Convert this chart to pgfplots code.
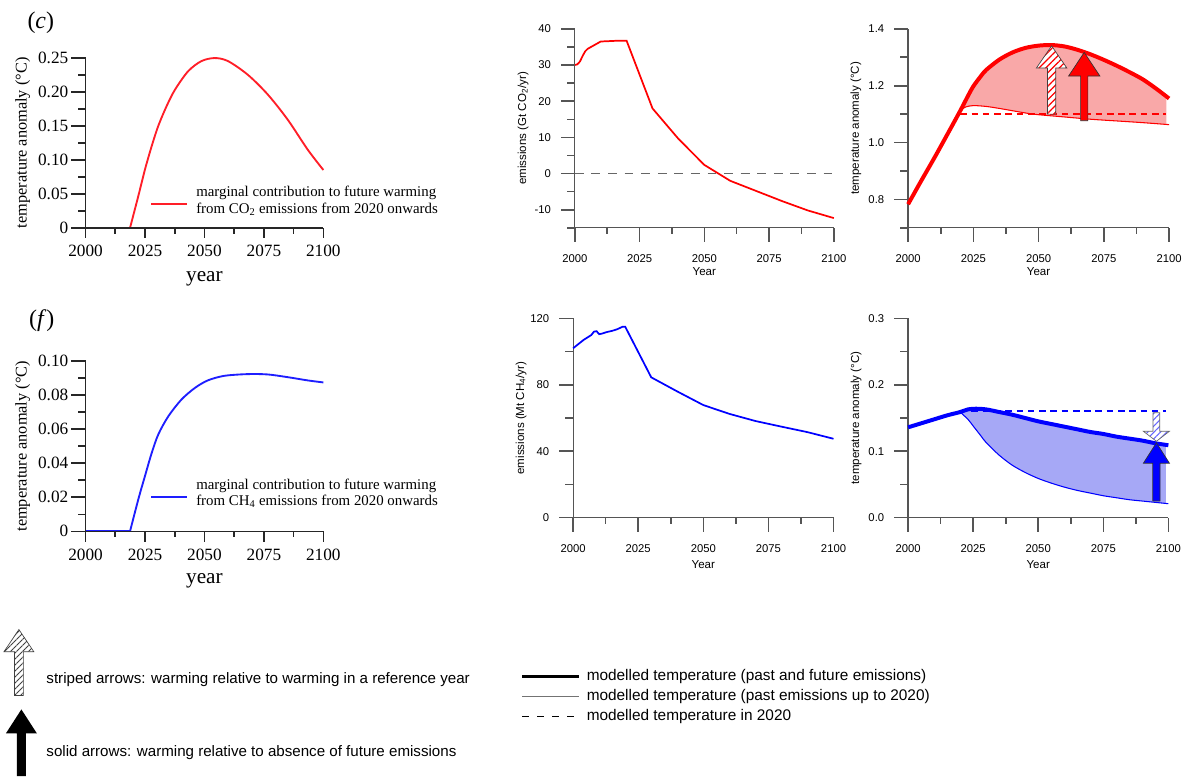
\documentclass[border=0pt]{standalone}
\usepackage{fontspec}
\setmainfont{Liberation Sans}
\newfontfamily\timesfont{Liberation Serif}
\usepackage{pgfplots}
\usepackage{pgfplotstable}
\pgfplotsset{compat=1.18}
\usepgfplotslibrary{fillbetween}
\usetikzlibrary{patterns.meta}

\definecolor{cored}{RGB}{255,0,0}
\definecolor{cofill}{RGB}{249,168,168}
\definecolor{chblue}{RGB}{0,0,255}
\definecolor{chfill}{RGB}{166,168,246}
\definecolor{axgrey}{RGB}{85,85,85}
\definecolor{lred}{RGB}{255,30,40}
\definecolor{lblue}{RGB}{30,30,255}

% ---------- data ----------
\pgfplotstableread{
x y
2000 30.0
2001 30.2
2002 31.0
2003 32.5
2004 33.8
2005 34.5
2007 35.3
2010 36.5
2013 36.6
2016 36.7
2020 36.7
2030 18.0
2040 9.6
2050 2.4
2060 -2.0
2070 -4.8
2080 -7.6
2090 -10.2
2100 -12.3
}\coemis

\pgfplotstableread{
x y
2000 0.783
2005 0.865
2010 0.945
2015 1.028
2020 1.112
2023 1.165
2025 1.198
2028 1.235
2030 1.256
2035 1.292
2040 1.317
2045 1.333
2050 1.341
2055 1.343
2060 1.338
2065 1.326
2070 1.310
2075 1.291
2080 1.270
2085 1.247
2090 1.222
2095 1.190
2100 1.155
}\cothick

\pgfplotstableread{
x y
2020 1.112
2022 1.125
2025 1.130
2030 1.127
2035 1.120
2040 1.112
2045 1.104
2050 1.098
2060 1.090
2070 1.082
2080 1.076
2090 1.070
2100 1.063
}\cothin

\pgfplotstableread{
x y
2000 102.0
2002 104.5
2004 107.0
2006 109.0
2007 110.0
2008 112.0
2009 112.3
2010 110.5
2011 110.8
2013 111.8
2015 112.5
2017 113.5
2019 115.0
2020 115.0
2030 84.5
2040 76.0
2050 67.8
2060 62.5
2070 58.2
2080 54.8
2090 51.5
2100 47.5
}\chemis

\pgfplotstableread{
x y
2000 0.136
2005 0.142
2010 0.148
2015 0.154
2020 0.159
2023 0.163
2026 0.164
2030 0.163
2035 0.159
2040 0.155
2045 0.150
2050 0.145
2055 0.141
2060 0.137
2065 0.133
2070 0.129
2075 0.126
2080 0.122
2085 0.119
2090 0.116
2095 0.112
2100 0.109
}\chthick

\pgfplotstableread{
x y
2020 0.159
2023 0.148
2025 0.138
2028 0.123
2030 0.113
2035 0.094
2040 0.079
2045 0.068
2050 0.059
2055 0.052
2060 0.046
2065 0.041
2070 0.037
2075 0.033
2080 0.030
2085 0.027
2090 0.025
2095 0.023
2100 0.021
}\chthin

\pgfplotstableread{
x y
2018.7 0
2022.2 0.047
2025.0 0.086
2027.8 0.120
2030.6 0.150
2034.1 0.179
2037.6 0.203
2043.1 0.230
2048.7 0.245
2054.3 0.2495
2059.9 0.245
2068.2 0.225
2076.6 0.196
2085.0 0.159
2093.4 0.115
2100.0 0.085
}\comarg

\pgfplotstableread{
x y
2018.7 0
2022.2 0.0189
2025.0 0.0326
2027.8 0.046
2030.6 0.057
2034.8 0.0676
2040.3 0.0774
2045.9 0.0842
2051.4 0.0887
2058.4 0.0914
2068.2 0.0924
2076.6 0.0922
2085.0 0.0906
2093.4 0.0887
2100.0 0.0875
}\chmarg

\pgfplotsset{
  rstyle/.style={
    scale only axis, axis lines=left,
    axis line style={-, draw=axgrey, line width=0.9pt},
    tick align=outside, major tick length=11.5pt, minor tick length=5pt,
    every tick/.style={draw=none},
    major tick style={draw=none},
    minor tick style={draw=none},
    xmin=2000, xmax=2100, xtick={2000,2025,2050,2075,2100}, minor x tick num=1,
    enlargelimits=false, clip=false,
    /pgf/number format/assume math mode=true,
    /pgf/number format/1000 sep={},
    tick label style={font=\fontsize{8.5}{10}\selectfont},
    xticklabel style={yshift=-5pt},
    yticklabel style={xshift=-3pt},
    label style={font=\fontsize{8.7}{10}\selectfont},
    xlabel={Year},
    xlabel style={at={(axis description cs:0.5,-0.218)}, anchor=center},
    ylabel style={at={(axis description cs:-0.2,0.5)}, anchor=center},
  },
  lstyle/.style={
    scale only axis, axis lines=left, axis on top,
    axis line style={-, draw=black!85, line width=1pt},
    tick align=outside, major tick length=9.5pt, minor tick length=5pt,
    every tick/.style={draw=none},
    major tick style={draw=none},
    minor tick style={draw=none},
    xmin=2000, xmax=2100, xtick={2000,2025,2050,2075,2100}, minor x tick num=1,
    enlargelimits=false, clip=false,
    /pgf/number format/assume math mode=true,
    /pgf/number format/1000 sep={},
    tick label style={font=\timesfont\fontsize{13}{15}\selectfont},
    xlabel={year},
    xlabel style={font=\timesfont\fontsize{16}{18}\selectfont, anchor=center},
    ylabel={temperature anomaly (°C)},
    ylabel style={font=\timesfont\fontsize{12.3}{14}\selectfont, at={(axis description cs:-0.264,0.5)}, anchor=center},
  },
}

\begin{document}
\begin{tikzpicture}
\begin{scope}[x=0.75pt,y=-0.75pt]
\path[use as bounding box] (0,0) rectangle (1186,780);
\end{scope}

% ===== (c) marginal CO2 =====
\begin{axis}[lstyle, at={(64.5pt,-43.5pt)}, anchor=north west, width=179.25pt, height=128.25pt,
  ymin=0, ymax=0.25, ytick={0,0.05,0.10,0.15,0.20,0.25},
  yticklabels={0,0.05,0.10,0.15,0.20,0.25},
  minor ytick={0.025,0.075,0.125,0.175,0.225},
  xlabel style={at={(axis description cs:0.5,-0.30)}}]
\addplot[lred, line width=1.4pt] coordinates {(2000,0) (2018.7,0)};
\addplot[lred, line width=1.4pt, smooth] table {\comarg};
\end{axis}

% ===== (f) marginal CH4 =====
\begin{axis}[lstyle, at={(64.5pt,-272.25pt)}, anchor=north west, width=179.25pt, height=128.25pt,
  ymin=0, ymax=0.10, ytick={0,0.02,0.04,0.06,0.08,0.10},
  yticklabels={0,0.02,0.04,0.06,0.08,0.10},
  minor ytick={0.01,0.03,0.05,0.07,0.09},
  xlabel style={at={(axis description cs:0.5,-0.29)}}]
\addplot[lblue, line width=1.4pt] coordinates {(2000,0) (2018.7,0)};
\addplot[lblue, line width=1.4pt, smooth] table {\chmarg};
\end{axis}

% ===== CO2 emissions =====
\begin{axis}[rstyle, at={(433.3pt,-21.75pt)}, anchor=north west, width=195.2pt, height=150pt,
  ymin=-15, ymax=40, ytick={-10,0,10,20,30,40}, yticklabels={-10,0,10,20,30,40},
  minor ytick={-15,-5,5,15,25,35},
  ylabel={emissions (Gt CO\textsubscript{2}/yr)}]
\addplot[black!60, line width=1.2pt, dash pattern=on 6.7pt off 5.8pt] coordinates {(2000,0) (2100,0)};
\addplot[cored, line width=1.3pt] table {\coemis};
\end{axis}

% ===== CO2 temperature =====
\begin{axis}[rstyle, at={(684.5pt,-21.75pt)}, anchor=north west, width=196.7pt, height=150pt,
  ymin=0.7, ymax=1.4, ytick={0.8,1.0,1.2,1.4}, yticklabels={0.8,1.0,1.2,1.4},
  minor ytick={0.7,0.9,1.1,1.3},
  ylabel={temperature anomaly (°C)}]
\addplot[draw=none, name path=A] table {\cothick};
\addplot[draw=none, name path=B] table {\cothin};
\addplot[cofill, draw=none] fill between[of=A and B, soft clip={domain=2020:2099}];
\addplot[cored, line width=0.8pt, smooth] table {\cothin};
\addplot[cored, line width=1.2pt, dash pattern=on 5pt off 3.5pt] coordinates {(2020,1.10) (2099,1.10)};
\addplot[cored, line width=3pt, smooth] table {\cothick};
\path[fill=white, postaction={pattern={Lines[angle=45,distance=3.6pt,line width=0.9pt]}, pattern color=cored},
      postaction={draw=black!75, line width=0.5pt}]
  (axis cs:2053.4,1.10) -- (axis cs:2056.6,1.10) -- (axis cs:2056.6,1.262) -- (axis cs:2060.85,1.262)
  -- (axis cs:2055,1.34) -- (axis cs:2049.15,1.262) -- (axis cs:2053.4,1.262) -- cycle;
\draw[fill=cored, draw=black!80, line width=0.5pt]
  (axis cs:2066.1,1.077) -- (axis cs:2068.9,1.077) -- (axis cs:2068.9,1.234) -- (axis cs:2073.5,1.234)
  -- (axis cs:2067.5,1.317) -- (axis cs:2061.5,1.234) -- (axis cs:2066.1,1.234) -- cycle;
\end{axis}

% ===== CH4 emissions =====
\begin{axis}[rstyle, at={(432pt,-240pt)}, anchor=north west, width=196.3pt, height=150.2pt,
  ymin=0, ymax=120, ytick={0,40,80,120}, yticklabels={0,40,80,120},
  minor ytick={20,60,100},
  ylabel={emissions (Mt CH\textsubscript{4}/yr)},
  xlabel style={at={(axis description cs:0.5,-0.235)}}]
\addplot[chblue, line width=1.3pt] table {\chemis};
\end{axis}

% ===== CH4 temperature =====
\begin{axis}[rstyle, at={(684.5pt,-240pt)}, anchor=north west, width=196.2pt, height=150.2pt,
  ymin=0, ymax=0.3, ytick={0,0.1,0.2,0.3}, yticklabels={0.0,0.1,0.2,0.3},
  minor ytick={0.05,0.15,0.25},
  ylabel={temperature anomaly (°C)},
  xlabel style={at={(axis description cs:0.5,-0.235)}}]
\addplot[draw=none, name path=C] table {\chthick};
\addplot[draw=none, name path=D] table {\chthin};
\addplot[chfill, draw=none] fill between[of=C and D, soft clip={domain=2020:2099}];
\addplot[chblue, line width=0.8pt, smooth] table {\chthin};
\addplot[chblue, line width=1.2pt, dash pattern=on 5pt off 3.5pt] coordinates {(2020,0.161) (2099,0.161)};
\addplot[chblue, line width=3pt, smooth] table {\chthick};
\path[fill=white, postaction={pattern={Lines[angle=45,distance=3.4pt,line width=0.8pt]}, pattern color=chblue!60},
      postaction={draw=black!60, line width=0.5pt}]
  (axis cs:2094.1,0.158) -- (axis cs:2096.7,0.158) -- (axis cs:2096.7,0.130) -- (axis cs:2100.4,0.130)
  -- (axis cs:2095.4,0.115) -- (axis cs:2090.4,0.130) -- (axis cs:2094.1,0.130) -- cycle;
\draw[fill=chblue, draw=black!80, line width=0.5pt]
  (axis cs:2094.0,0.025) -- (axis cs:2096.8,0.025) -- (axis cs:2096.8,0.082) -- (axis cs:2100.4,0.082)
  -- (axis cs:2095.4,0.1127) -- (axis cs:2090.4,0.082) -- (axis cs:2094.0,0.082) -- cycle;
\end{axis}

% ===== tick marks (filled bars), annotations and legends (picture pixels) =====
\begin{scope}[x=0.75pt,y=-0.75pt]
\newcommand\xtk[4][axgrey]{\fill[#1] ({#2-0.8},#3) rectangle ++(1.6,#4);}
\newcommand\ytk[4][axgrey]{\fill[#1] (#2,{#3-0.8}) rectangle ++(-#4,1.6);}
% top-middle
\foreach \t in {0,25,50,75,100} {\xtk{577.73+\t*2.6027}{229}{14}}
\foreach \t in {12.5,37.5,62.5,87.5} {\xtk{577.73+\t*2.6027}{229}{6}}
\foreach \v in {-10,0,10,20,30,40} {\ytk{577.73}{229-(\v+15)*3.63636}{14}}
\foreach \v in {-15,-5,5,15,25,35} {\ytk{577.73}{229-(\v+15)*3.63636}{8}}
% top-right
\foreach \t in {0,25,50,75,100} {\xtk{912.67+\t*2.6227}{229}{14}}
\foreach \t in {12.5,37.5,62.5,87.5} {\xtk{912.67+\t*2.6227}{229}{6}}
\foreach \v in {0.1,0.3,0.5,0.7} {\ytk{912.67}{229-\v*285.714}{14}}
\foreach \v in {0,0.2,0.4,0.6} {\ytk{912.67}{229-\v*285.714}{8}}
% bottom-middle
\foreach \t in {0,25,50,75,100} {\xtk{576+\t*2.6173}{520.27}{14}}
\foreach \t in {12.5,37.5,62.5,87.5} {\xtk{576+\t*2.6173}{520.27}{6}}
\foreach \v in {0,40,80,120} {\ytk{576}{520.27-\v*1.66892}{14}}
\foreach \v in {20,60,100} {\ytk{576}{520.27-\v*1.66892}{8}}
% bottom-right
\foreach \t in {0,25,50,75,100} {\xtk{912.67+\t*2.616}{520.27}{14}}
\foreach \t in {12.5,37.5,62.5,87.5} {\xtk{912.67+\t*2.616}{520.27}{6}}
\foreach \v in {0,0.1,0.2,0.3} {\ytk{912.67}{520.27-\v*667.57}{14}}
\foreach \v in {0.05,0.15,0.25} {\ytk{912.67}{520.27-\v*667.57}{8}}
% left top
\foreach \t in {0,25,50,75,100} {\xtk[black!85]{86+\t*2.39}{229}{10.7}}
\foreach \t in {12.5,37.5,62.5,87.5} {\xtk[black!85]{86+\t*2.39}{229}{5.7}}
\foreach \v in {0,0.05,0.10,0.15,0.20,0.25} {\ytk[black!85]{86}{229-\v*684}{14.3}}
\foreach \v in {0.025,0.075,0.125,0.175,0.225} {\ytk[black!85]{86}{229-\v*684}{7.7}}
% left bottom
\foreach \t in {0,25,50,75,100} {\xtk[black!85]{86+\t*2.39}{534}{10.7}}
\foreach \t in {12.5,37.5,62.5,87.5} {\xtk[black!85]{86+\t*2.39}{534}{5.7}}
\foreach \v in {0,0.02,0.04,0.06,0.08,0.10} {\ytk[black!85]{86}{534-\v*1710}{14.3}}
\foreach \v in {0.01,0.03,0.05,0.07,0.09} {\ytk[black!85]{86}{534-\v*1710}{7.7}}

\node[font=\timesfont\fontsize{18}{20}\selectfont] at (41,23) {(\textit{c})};
\node[font=\timesfont\fontsize{18}{20}\selectfont] at (42,322) {(\textit{f})};

\draw[lred, line width=1.5pt] (152,205) -- (188,205);
\node[anchor=west, align=left, inner sep=0pt, font=\timesfont\fontsize{11.2}{12.6}\selectfont]
  at (197,202) {marginal contribution to future warming\\from CO\textsubscript{2} emissions from 2020 onwards};
\draw[lblue, line width=1.5pt] (152,500) -- (188,500);
\node[anchor=west, align=left, inner sep=0pt, font=\timesfont\fontsize{11.2}{12}\selectfont]
  at (197,496) {marginal contribution to future warming\\from CH\textsubscript{4} emissions from 2020 onwards};

% arrow legend
\path[fill=white, postaction={pattern={Lines[angle=45,distance=3.2pt,line width=0.6pt]}, pattern color=black!75},
      postaction={draw=black!75, line width=0.5pt}]
  (14.5,699) -- (23.5,699) -- (23.5,655) -- (34,655) -- (19,632.7) -- (4,655) -- (14.5,655) -- cycle;
\node[anchor=west, font=\fontsize{11.4}{13}\selectfont] at (42,683) {striped arrows: warming relative to warming in a reference year};
\fill[black] (17,780) -- (26,780) -- (26,737) -- (37,737) -- (21.5,713) -- (6,737) -- (17,737) -- cycle;
\node[anchor=west, font=\fontsize{11.4}{13}\selectfont] at (42,756) {solid arrows: warming relative to absence of future emissions};

% line legend
\draw[black, line width=2.6pt] (525,680) -- (582,680);
\draw[black!55, line width=0.6pt] (525,700) -- (582,700);
\draw[black, line width=1pt, dash pattern=on 5.25pt off 6pt] (525,720) -- (582,720);
\node[anchor=west, font=\fontsize{11.6}{13}\selectfont] at (585,680) {modelled temperature (past and future emissions)};
\node[anchor=west, font=\fontsize{11.6}{13}\selectfont] at (585,700) {modelled temperature (past emissions up to 2020)};
\node[anchor=west, font=\fontsize{11.6}{13}\selectfont] at (585,720) {modelled temperature in 2020};
\end{scope}
\end{tikzpicture}
\end{document}
